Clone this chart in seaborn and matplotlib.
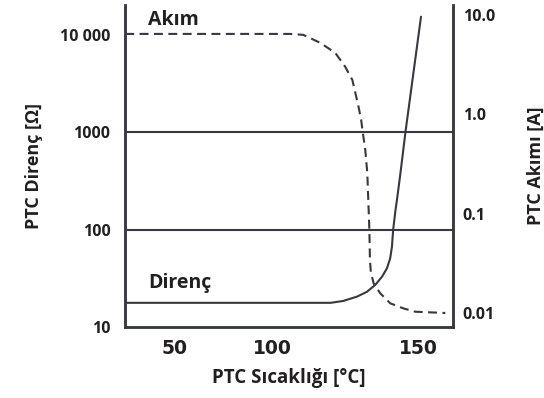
import numpy as np
import pandas as pd
import seaborn as sns
import matplotlib.pyplot as plt

# PTC resistance (ohm) vs temperature
temp_res = [25, 120, 124.3, 129.0, 132.4, 135.2, 137.5, 139.2, 140.3, 140.9,
            141.3, 142.1, 142.6, 143.8, 145.5, 150.8]
resistance = [17.7, 17.7, 18.5, 20.5, 23.0, 27.0, 32.8, 40.0, 50.7, 66.7,
              98.9, 158, 201, 380, 1000, 15250]

# PTC current (A) vs temperature
temp_cur = [25, 106.2, 110.7, 116.5, 121.6, 125.0, 127.4, 129.5, 130.4, 131.0,
            131.8, 132.5, 133.2, 133.4, 133.7, 134.65, 136.9, 140.35, 144.9,
            148.9, 159.1]
current = [6.45, 6.45, 6.31, 5.24, 4.15, 3.0, 2.22, 1.196, 0.879, 0.646,
           0.439, 0.257, 0.0686, 0.0342, 0.0259, 0.0199, 0.0158, 0.0125, 0.0111,
           0.0103, 0.0100]

x_ticks = [50, 75, 100, 116.67, 133.33, 150]
x_tick_labels = ["50", "", "100", "", "", "150"]
left_ticks = [10, 100, 1000, 10000]
left_tick_labels = ["10", "100", "1000", "10 000"]
right_ticks = [0.01, 0.1, 1.0, 10.0]
right_tick_labels = ["0.01", "0.1", "1.0", "10.0"]
grid_levels = [100, 1000]

df_res = pd.DataFrame({"Sıcaklık": temp_res, "Direnç": resistance})
df_cur = pd.DataFrame({"Sıcaklık": temp_cur, "Akım": current})

sns.set_theme(style="white")
plt.rcParams["font.family"] = ["Open Sans", "DejaVu Sans"]
plt.rcParams["font.weight"] = "bold"

line_c = "#363941"
text_c = "#231f20"


# the drawing's temperature axis is schematic: 50-100 spans 2 ticks, 100-150 spans 3
def fwd(t):
    t = np.asarray(t, dtype=float)
    return np.where(t <= 100, (t - 50) / 25, 2 + (t - 100) * 3 / 50)


def inv(u):
    u = np.asarray(u, dtype=float)
    return np.where(u <= 2, 50 + 25 * u, 100 + (u - 2) * 50 / 3)


fig = plt.figure(figsize=(5.44, 3.98), dpi=100)
ax = fig.add_axes([125 / 544, 1 - 327 / 398, 328 / 544, 322 / 398])
ax.set_xscale("function", functions=(fwd, inv))
ax.set_yscale("log")
ax2 = ax.twinx()
ax2.set_yscale("log")

for lvl in grid_levels:
    ax.axhline(lvl, color=line_c, lw=1.5, zorder=1)

sns.lineplot(data=df_res, x="Sıcaklık", y="Direnç", ax=ax, color=line_c, lw=1.5)
sns.lineplot(data=df_cur, x="Sıcaklık", y="Akım", ax=ax2, color=line_c, lw=1.5,
             linestyle=(0, (4.3, 2.6)))

ax.set_xlim(24.9, 161.7)
ax.set_ylim(10, 10 ** 4.303)
ax2.set_ylim(10 ** -2.141, 10 ** 1.1007)

ax.set_xticks(x_ticks)
ax.set_xticklabels(x_tick_labels, fontfamily="DejaVu Sans", fontweight="bold",
                   fontsize=13.5, color=text_c)
ax.xaxis.set_minor_locator(plt.NullLocator())
ax.tick_params(axis="x", direction="inout", length=8, width=1.3, color=line_c, pad=4.5)

ax.set_yticks(left_ticks)
ax.set_yticklabels(left_tick_labels, fontsize=11.5, color=text_c)
ax.yaxis.set_minor_locator(plt.NullLocator())
ax.tick_params(axis="y", length=0, pad=10.5)

ax2.set_yticks(right_ticks)
ax2.set_yticklabels(right_tick_labels, fontsize=11.5, color=text_c)
ax2.yaxis.set_minor_locator(plt.NullLocator())
ax2.tick_params(axis="y", length=0, pad=7)

for a in (ax, ax2):
    a.spines["top"].set_visible(False)
    for s in ("left", "right", "bottom"):
        a.spines[s].set_color(line_c)
        a.spines[s].set_linewidth(1.8)

ax.set_xlabel("PTC Sıcaklığı [°C]", fontsize=13.5, fontweight="bold", color=text_c, labelpad=7)
ax.set_ylabel("PTC Direnç [Ω]", fontsize=13, fontweight="bold", color=text_c)
ax.yaxis.set_label_coords(-0.25, 0.5)
ax2.set_ylabel("PTC Akımı [A]", fontsize=13, fontweight="bold", color=text_c)
ax2.yaxis.set_label_coords(1.2256, 0.5)

ax.text(36.7, 12500, "Akım", fontsize=14, fontweight="bold", color=text_c, va="baseline")
ax.text(36.7, 25.1, "Direnç", fontsize=14, fontweight="bold", color=text_c, va="baseline")

fig.savefig("out.png", dpi=100)
